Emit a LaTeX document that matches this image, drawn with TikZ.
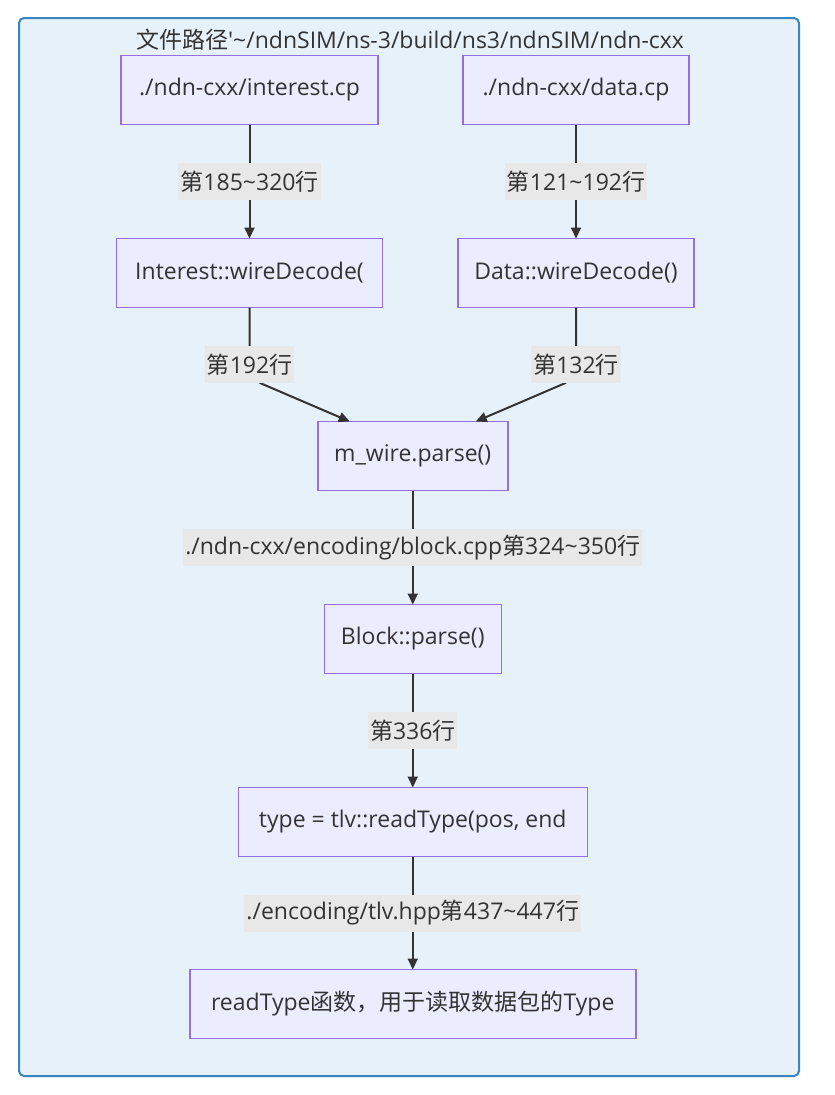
\documentclass[tikz,border=0pt]{standalone}
\usepackage{fontspec}
\setmainfont{Open Sans}
\newfontfamily\cjk{Noto Sans CJK SC}
\usetikzlibrary{positioning,arrows.meta,calc}
\definecolor{grpfill}{HTML}{E7F1FA}
\definecolor{grpline}{HTML}{3A86BF}
\definecolor{boxfill}{HTML}{ECECFF}
\definecolor{boxline}{HTML}{9370DB}
\definecolor{lblfill}{HTML}{E8E8E8}
\definecolor{ink}{HTML}{333333}

\begin{document}
\begin{tikzpicture}[>={Triangle[length=11pt,width=10pt]},
  b/.style={draw=boxline,fill=boxfill,line width=1.5pt,minimum height=69pt,inner sep=0pt,outer sep=0pt,text=ink,font=\fontsize{23}{27}\selectfont},
  lab/.style={fill=lblfill,sharp corners,minimum height=37pt,inner sep=2pt,text=ink,font=\fontsize{23}{27}\selectfont},
  conn/.style={draw=ink,line width=2pt}]
\useasboundingbox (0,0) rectangle (835pt,-1095pt);
\draw[grpline,fill=grpfill,line width=2pt,rounded corners=5pt] (19pt,-18pt) rectangle (799pt,-1076pt);
\node[text=ink,font=\fontsize{23}{27}\selectfont] (title) at (410pt,-40pt) {{\cjk 文件路径}\textquotesingle\textasciitilde/ndnSIM/ns-3/build/ns3/ndnSIM/ndn-cxx};
\node[b,minimum width=257pt] (a) at (249.5pt,-90pt) {./ndn-cxx/interest.cp};
\node[b,minimum width=226pt,right=85pt of a] (b) {./ndn-cxx/data.cp};
\node[b,minimum width=266pt,below=114pt of a] (c) {Interest::wireDecode(};
\node[b,minimum width=236pt,below=114pt of b] (d) {Data::wireDecode()};
\coordinate (mid) at ($(c.south)!.5!(d.south)$);
\node[b,minimum width=190pt,below=114pt of mid] (e) {m\_wire.parse()};
\node[b,minimum width=177pt,below=114pt of e] (f) {Block::parse()};
\node[b,minimum width=349pt,below=114pt of f] (g) {type = tlv::readType(pos, end};
\node[b,minimum width=446pt,below=113pt of g] (h) {readType{\cjk 函数，用于读取数据包的}Type};
\draw[conn,->] (a) -- node[lab] (la) {{\cjk 第}185\textasciitilde320{\cjk 行}} (c);
\draw[conn,->] (b) -- node[lab] (lb) {{\cjk 第}121\textasciitilde192{\cjk 行}} (d);
\draw[conn,->,rounded corners=14pt] (c) -- node[lab,pos=.8] (lc) {{\cjk 第}192{\cjk 行}} ([yshift=-71pt]c.south) -- ([xshift=-63pt]e.north);
\draw[conn,->,rounded corners=14pt] (d) -- node[lab,pos=.8] (ld) {{\cjk 第}132{\cjk 行}} ([yshift=-71pt]d.south) -- ([xshift=63pt]e.north);
\draw[conn,->] (e) -- node[lab] (le) {./ndn-cxx/encoding/block.cpp{\cjk 第}324\textasciitilde350{\cjk 行}} (f);
\draw[conn,->] (f) -- node[lab] (lf) {{\cjk 第}336{\cjk 行}} (g);
\draw[conn,->] (g) -- node[lab] (lg) {./encoding/tlv.hpp{\cjk 第}437\textasciitilde447{\cjk 行}} (h);
\end{tikzpicture}
\end{document}
